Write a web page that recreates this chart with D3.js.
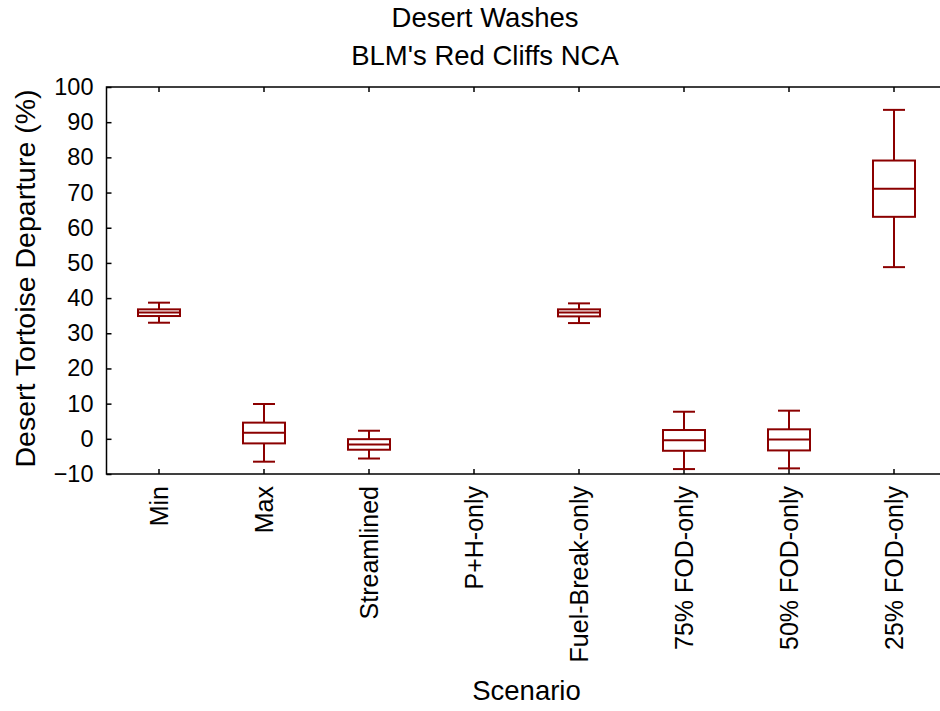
<!DOCTYPE html>
<html>
<head>
<meta charset="utf-8">
<script src="https://cdn.jsdelivr.net/npm/d3@7"></script>
<style>
  html, body { margin: 0; padding: 0; background: #fff; }
  svg { display: block; font-family: "Liberation Sans", Arial, sans-serif; }
</style>
</head>
<body>
<svg id="chart" width="940" height="711"></svg>
<script>
// Scenario names along the x axis
const categories = ["Min", "Max", "Streamlined", "P+H-only", "Fuel-Break-only",
                    "75% FOD-only", "50% FOD-only", "25% FOD-only"];
// Box-plot statistics per scenario (null = no data)
const whiskerLow  = [33.0, -6.5, -5.6, null, 32.9, -8.6, -8.4, 48.8];
const boxLow      = [34.9, -1.3, -3.1, null, 34.8, -3.4, -3.3, 63.1];
const medians     = [35.9,  1.7, -1.6, null, 35.9, -0.4, -0.2, 71.1];
const boxHigh     = [36.8,  4.6, -0.1, null, 36.8,  2.5,  2.7, 79.1];
const whiskerHigh = [38.7,  9.9,  2.3, null, 38.5,  7.7,  8.0, 93.5];
const yTicks = [-10, 0, 10, 20, 30, 40, 50, 60, 70, 80, 90, 100];

const svg = d3.select("#chart");
const plot = { left: 106.5, right: 946.5, top: 87, bottom: 474 };
const boxColor = "#8b0000";
const fontFamily = "Liberation Sans, Arial, sans-serif";

const x = d3.scaleBand().domain(categories).range([plot.left, plot.right]).padding(0);
const y = d3.scaleLinear().domain([-10, 100]).range([plot.bottom, plot.top]);

// Plot frame
svg.append("rect")
  .attr("x", plot.left).attr("y", plot.top)
  .attr("width", plot.right - plot.left).attr("height", plot.bottom - plot.top)
  .attr("fill", "none").attr("stroke", "#000").attr("stroke-width", 1.5);

// Axes with inward ticks
const yAxis = svg.append("g")
  .attr("transform", `translate(${plot.left},0)`)
  .call(d3.axisLeft(y).tickValues(yTicks).tickSize(-5).tickPadding(13));
yAxis.select(".domain").remove();
yAxis.selectAll("line").attr("stroke", "#000").attr("stroke-width", 1.5);
yAxis.selectAll("text").attr("font-size", 23.5).attr("fill", "#000")
  .attr("font-family", fontFamily);

const topAxis = svg.append("g")
  .attr("transform", `translate(0,${plot.top})`)
  .call(d3.axisTop(x).tickSize(-5).tickFormat(""));
topAxis.select(".domain").remove();
topAxis.selectAll("line").attr("stroke", "#000").attr("stroke-width", 1.5);

const xAxis = svg.append("g")
  .attr("transform", `translate(0,${plot.bottom})`)
  .call(d3.axisBottom(x).tickSize(-5).tickPadding(0));
xAxis.select(".domain").remove();
xAxis.selectAll("line").attr("stroke", "#000").attr("stroke-width", 1.5);
xAxis.selectAll("text")
  .attr("font-size", 25).attr("fill", "#000")
  .attr("font-family", fontFamily)
  .attr("text-anchor", "end")
  .attr("transform", "rotate(-90)")
  .attr("x", -12).attr("y", 0).attr("dy", "0.35em");

// Box plots
const stats = categories.map((c, i) => ({
  c, lo: whiskerLow[i], q1: boxLow[i], med: medians[i], q3: boxHigh[i], hi: whiskerHigh[i]
})).filter(d => d.med !== null);

const boxW = 42, capW = 22;
const g = svg.append("g").attr("stroke", boxColor).attr("stroke-width", 2).attr("fill", "none");
stats.forEach(d => {
  const cx = x(d.c) + x.bandwidth() / 2;
  const b = g.append("g");
  b.append("line").attr("x1", cx).attr("x2", cx).attr("y1", y(d.hi)).attr("y2", y(d.q3));
  b.append("line").attr("x1", cx).attr("x2", cx).attr("y1", y(d.q1)).attr("y2", y(d.lo));
  b.append("line").attr("x1", cx - capW / 2).attr("x2", cx + capW / 2).attr("y1", y(d.hi)).attr("y2", y(d.hi));
  b.append("line").attr("x1", cx - capW / 2).attr("x2", cx + capW / 2).attr("y1", y(d.lo)).attr("y2", y(d.lo));
  b.append("rect").attr("x", cx - boxW / 2).attr("width", boxW)
    .attr("y", y(d.q3)).attr("height", y(d.q1) - y(d.q3));
  b.append("line").attr("x1", cx - boxW / 2).attr("x2", cx + boxW / 2).attr("y1", y(d.med)).attr("y2", y(d.med));
});

// Titles
svg.append("text").attr("x", 485).attr("y", 27).attr("text-anchor", "middle")
  .attr("font-size", 27.5).text("Desert Washes");
svg.append("text").attr("x", 485).attr("y", 65).attr("text-anchor", "middle")
  .attr("font-size", 27.5).text("BLM's Red Cliffs NCA");
svg.append("text").attr("x", (plot.left + plot.right) / 2).attr("y", 700).attr("text-anchor", "middle")
  .attr("font-size", 27.5).text("Scenario");
svg.append("text")
  .attr("transform", `translate(35,${(plot.top + plot.bottom) / 2 - 2}) rotate(-90)`)
  .attr("text-anchor", "middle").attr("font-size", 28.5)
  .text("Desert Tortoise Departure (%)");
</script>
</body>
</html>
